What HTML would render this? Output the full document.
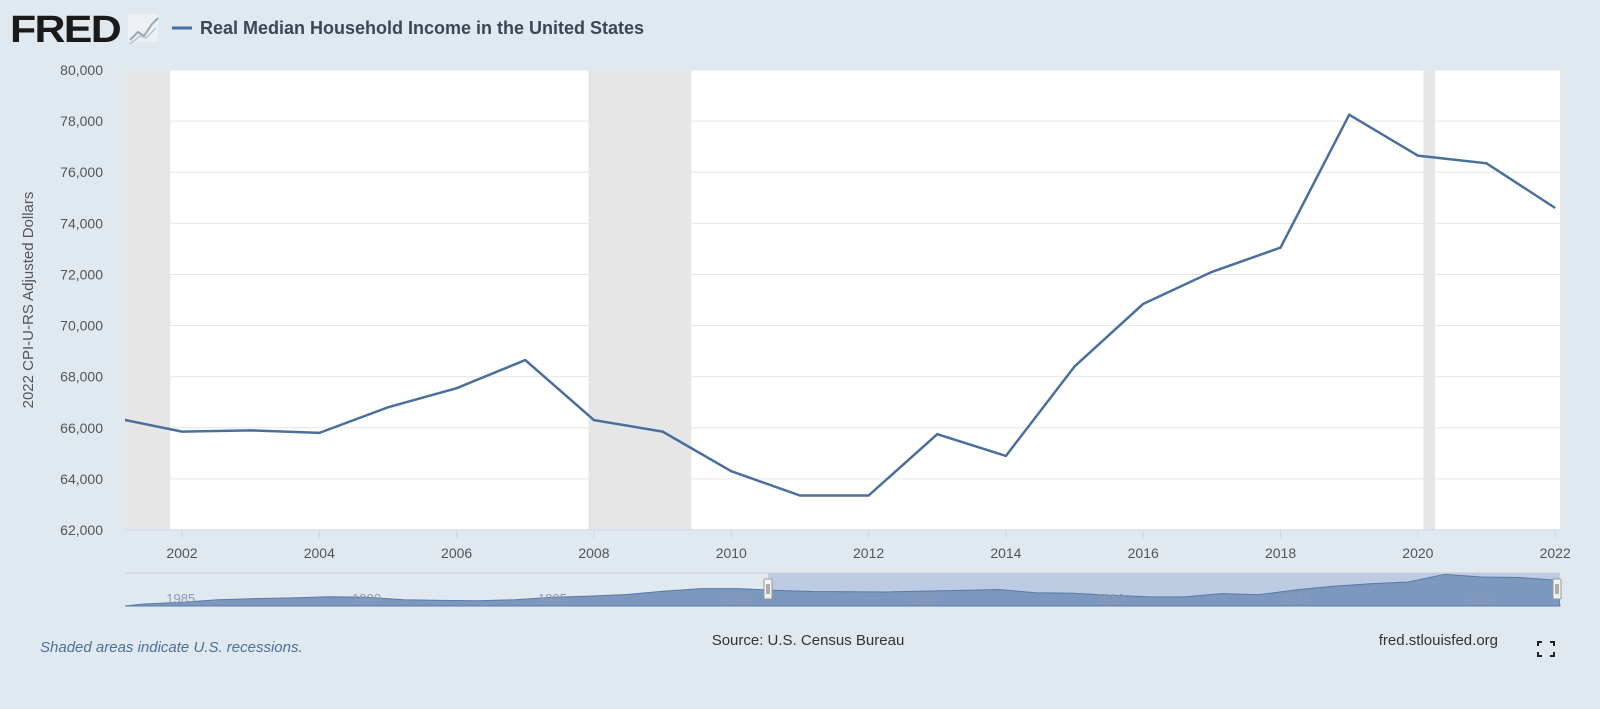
<!DOCTYPE html>
<html><head><meta charset="utf-8"><style>
html,body{margin:0;padding:0;background:#e1e9f0;width:1600px;height:709px;overflow:hidden;font-family:"Liberation Sans",sans-serif}
</style></head><body>
<svg id="chart" width="1600" height="709" xmlns="http://www.w3.org/2000/svg">
<rect x="0" y="0" width="1600" height="709" fill="#e1e9f0"/>
<g>
<text x="10" y="42" font-size="38" font-weight="bold" fill="#1a1a1a" letter-spacing="-1.5" textLength="110" lengthAdjust="spacingAndGlyphs" font-family="Liberation Sans, sans-serif">FRED</text>
<rect x="128" y="14" width="30" height="28" fill="#eef1f4"/>
<polyline points="130,40 138,32 144,36 152,24 158,18" fill="none" stroke="#9aa8b5" stroke-width="2"/>
<polyline points="130,44 140,36 146,38 156,28" fill="none" stroke="#b8c3cc" stroke-width="1.5"/>
</g>
<g>
<line x1="172" y1="28" x2="192" y2="28" stroke="#4b6f9c" stroke-width="3"/>
<text x="200" y="34" font-size="18" font-weight="bold" fill="#3c4654">Real Median Household Income in the United States</text>
</g>
<rect x="125" y="70" width="1435" height="460" fill="#ffffff"/>
<g id="recessions"></g>
<g id="grid"></g>
<g id="yticks"></g>
<g id="xticks"></g>
<text x="0" y="0" transform="translate(33,300) rotate(-90)" text-anchor="middle" font-size="15" fill="#555">2022 CPI-U-RS Adjusted Dollars</text>
<g id="series"></g>
<g id="nav"></g>
<text x="40" y="652" font-size="15" font-style="italic" fill="#4b6f9c">Shaded areas indicate U.S. recessions.</text>
<text x="808" y="645" text-anchor="middle" font-size="15" fill="#333">Source: U.S. Census Bureau</text>
<text x="1498" y="645" text-anchor="end" font-size="15" fill="#333">fred.stlouisfed.org</text>
<g stroke="#222" stroke-width="2" fill="none">
<polyline points="1538,646 1538,642 1542,642"/><polyline points="1550,642 1554,642 1554,646"/>
<polyline points="1538,652 1538,656 1542,656"/><polyline points="1550,656 1554,656 1554,652"/>
</g>
</svg>
<script>
const years=[2001,2002,2003,2004,2005,2006,2007,2008,2009,2010,2011,2012,2013,2014,2015,2016,2017,2018,2019,2020,2021,2022];
const incomes=[66400,65850,65900,65800,66800,67550,68650,66300,65850,64300,63350,63350,65750,64900,68400,70850,72100,73050,78250,76650,76350,74600];
const yTickValues=[62000,64000,66000,68000,70000,72000,74000,76000,78000,80000];
const xTickYears=[2002,2004,2006,2008,2010,2012,2014,2016,2018,2020,2022];
const recessionStarts=[2001.17,2007.92,2020.08];
const recessionEnds=[2001.83,2009.42,2020.25];
const navYears=[1984,1985,1986,1987,1988,1989,1990,1991,1992,1993,1994,1995,1996,1997,1998,1999,2000,2001,2002,2003,2004,2005,2006,2007,2008,2009,2010,2011,2012,2013,2014,2015,2016,2017,2018,2019,2020,2021,2022];
const navIncomes=[60200,61200,62800,63500,63900,64600,64300,62800,62400,62200,62800,64300,65000,66000,68000,69500,69500,68500,67800,67600,67500,68000,68500,69000,67000,66700,65500,64600,64500,66500,65800,68800,71000,72500,73500,78200,76600,76300,74600];
const NS="http://www.w3.org/2000/svg";
const L=125,R=1560,T=70,B=530;
const xMin=2001.17,xMax=2022.07,yMin=62000,yMax=80000;
function xs(v){return L+(v-xMin)/(xMax-xMin)*(R-L);}
function ys(v){return B-(v-yMin)/(yMax-yMin)*(B-T);}
function mk(tag,attrs,parent){const e=document.createElementNS(NS,tag);for(const k in attrs)e.setAttribute(k,attrs[k]);parent.appendChild(e);return e;}
const rec=document.getElementById('recessions');
recessionStarts.forEach((s,i)=>{const x0=Math.max(L,xs(s)),x1=Math.min(R,xs(recessionEnds[i]));
const r=mk('rect',{x:x0,y:T,width:x1-x0,height:B-T,fill:'#e6e6e6'},rec);

});
const grid=document.getElementById('grid'),yt=document.getElementById('yticks');
yTickValues.forEach(v=>{const y=ys(v);
const g=mk('line',{x1:L,x2:R,y1:y,y2:y,stroke:'#e6e6e6','stroke-width':1},grid);


const t=mk('text',{x:103,y:y+5,'text-anchor':'end','font-size':14,fill:'#555'},yt);


t.textContent=v.toLocaleString('en-US');});
const xt=document.getElementById('xticks');
xTickYears.forEach(v=>{const x=xs(v);
mk('line',{x1:x,x2:x,y1:B,y2:B+8,stroke:'#ccd6eb'},xt);
const t=mk('text',{x:x,y:B+28,'text-anchor':'middle','font-size':14,fill:'#555'},xt);


t.textContent=v;});
mk('line',{x1:L,x2:R,y1:B,y2:B,stroke:'#ccd6eb'},xt);
const ser=document.getElementById('series');
const clip=mk('clipPath',{id:'pc'},ser);mk('rect',{x:L,y:T,width:R-L,height:B-T},clip);
const p=mk('polyline',{points:years.map((y,i)=>xs(y)+','+ys(incomes[i])).join(' '),fill:'none',stroke:'#4b6f9c','stroke-width':2.5,'clip-path':'url(#pc)'},ser);


const nav=document.getElementById('nav');


const NT=573,NB=606,nMin=1983.5,nMax=2022.1,nyMin=59000,nyMax=79000;
function nx(v){return L+(v-nMin)/(nMax-nMin)*(R-L);}
function ny(v){return NB-(v-nyMin)/(nyMax-nyMin)*(NB-NT);}
mk('rect',{x:L,y:NT,width:R-L,height:NB-NT,fill:'#e1e9f0'},nav);
const s0=768,s1=R;
mk('rect',{x:s0,y:NT,width:s1-s0,height:NB-NT,fill:'rgba(102,133,194,0.3)'},nav);
let d='M'+L+','+NB;navYears.forEach((y,i)=>{d+=' L'+Math.max(L,nx(y))+','+ny(navIncomes[i]);});d+=' L'+R+','+NB+' Z';
const a=mk('path',{d:d,fill:'#7d98bf',stroke:'#5a7aa6','stroke-width':1},nav);


[1985,1990,1995,2000,2005,2010,2015,2020].forEach(v=>{const t=mk('text',{x:nx(v),y:603,'text-anchor':'middle','font-size':13,fill:'#8a9bb3'},nav);t.textContent=v;});
mk('line',{x1:L,x2:R,y1:NT,y2:NT,stroke:'#c8ccd0'},nav);
[s0,s1-3].forEach(x=>{const h=mk('rect',{x:x-4,y:579,width:8,height:20,fill:'#f2f2f2',stroke:'#999',rx:1},nav);


mk('line',{x1:x-1,x2:x-1,y1:584,y2:594,stroke:'#666'},nav);mk('line',{x1:x+1,x2:x+1,y1:584,y2:594,stroke:'#666'},nav);});
</script>
</body></html>
